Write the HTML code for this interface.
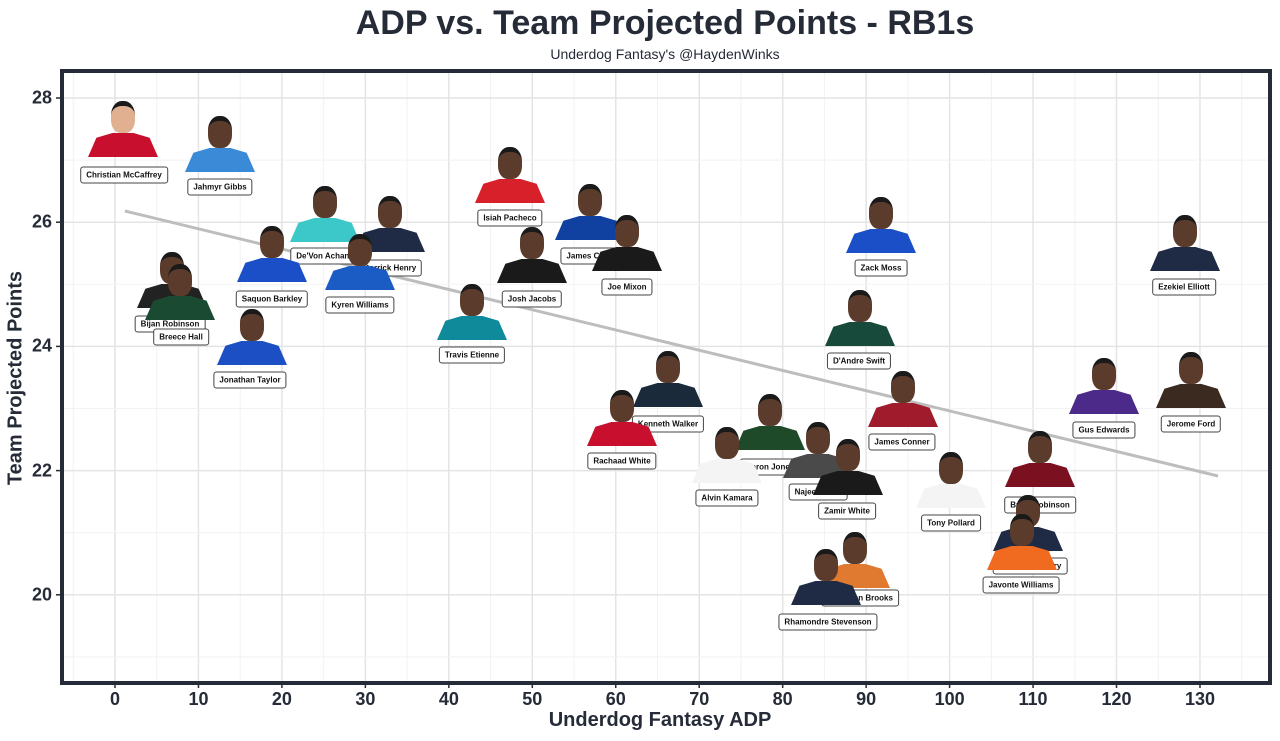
<!DOCTYPE html>
<html><head><meta charset="utf-8"><style>
body{margin:0;width:1280px;height:741px;background:#fff;font-family:"Liberation Sans",sans-serif;position:relative;overflow:hidden;color:#262b38}
.t{position:absolute;left:25px;width:1280px;text-align:center}
.lab{position:absolute;transform:translate(-50%,-50%);background:#fff;border:1px solid #444;border-radius:3px;font-size:8px;font-weight:bold;color:#111;padding:3px 5px;white-space:nowrap}
.pl{position:absolute;width:70px;height:56px;transform:translateX(-50%)}
.pl .h{position:absolute;left:23px;top:0;width:24px;height:32px;border-radius:45% 45% 40% 40%;background:#5b3b2b;border-top:5px solid #1a1a1a;box-sizing:border-box}
.pl .j{position:absolute;left:0;bottom:0;width:70px;height:24px;clip-path:polygon(12% 20%,35% 0,65% 0,88% 20%,100% 100%,0 100%)}
.yt{position:absolute;left:0;width:52px;text-align:right;font-size:18px;font-weight:bold;transform:translateY(-50%)}
.xt{position:absolute;top:689px;font-size:18px;font-weight:bold;transform:translateX(-50%)}
</style></head><body>
<div class="t" style="top:4px;font-size:34px;font-weight:bold">ADP vs. Team Projected Points - RB1s</div>
<div class="t" style="top:46px;font-size:14px">Underdog Fantasy's @HaydenWinks</div>
<svg style="position:absolute;left:0;top:0" width="1280" height="741" id="sv"></svg>
<div class="t" style="top:709px;font-size:20px;font-weight:bold;left:20px">Underdog Fantasy ADP</div>
<div style="position:absolute;left:16px;top:378px;transform:translate(-50%,-50%) rotate(-90deg);font-size:20px;font-weight:bold;white-space:nowrap">Team Projected Points</div>
<div id="root"></div>
<script>
var sv=document.getElementById('sv'),s='';
function X(v){return 115+v*8.346}function Y(v){return 98+(28-v)*62.1}
for(var v=-5;v<=135;v+=5){var x=X(v);if(x<64||x>1268)continue;s+='<line x1="'+x+'" x2="'+x+'" y1="73" y2="681" stroke="'+(v%10?'#f2f2f2':'#e4e4e4')+'" stroke-width="'+(v%10?1:1.5)+'"/>';}
for(var v=19;v<=28.5;v+=1){var y=Y(v);s+='<line x1="64" x2="1268" y1="'+y+'" y2="'+y+'" stroke="'+(v%2?'#f2f2f2':'#e4e4e4')+'" stroke-width="'+(v%2?1:1.5)+'"/>';}
s+='<line x1="125" y1="211" x2="1218" y2="476" stroke="#bdbdbd" stroke-width="3"/>';
s+='<rect x="62" y="71" width="1208" height="612" fill="none" stroke="#262b38" stroke-width="4"/>';
for(var v=0;v<=130;v+=10){var x=X(v);s+='<line x1="'+x+'" x2="'+x+'" y1="683" y2="688" stroke="#262b38" stroke-width="1.5"/>';}
for(var v=20;v<=28;v+=2){var y=Y(v);s+='<line x1="56" x2="62" y1="'+y+'" y2="'+y+'" stroke="#262b38" stroke-width="1.5"/>';}
sv.innerHTML=s;
var h='';
for(var v=0;v<=130;v+=10)h+='<div class="xt" style="left:'+X(v)+'px">'+v+'</div>';
for(var v=20;v<=28;v+=2)h+='<div class="yt" style="top:'+Y(v)+'px">'+v+'</div>';
var P=[
["Christian McCaffrey",124,175,"#c8102e",123,157,"#e0b090"],
["Jahmyr Gibbs",220,187,"#3a8ad8",220,172],
["Isiah Pacheco",510,218,"#d8202a",510,203],
["De'Von Achane",325,256,"#3cc8c8",325,242],
["James Cook",590,256,"#1040a0",590,240],
["Derrick Henry",390,268,"#1f2b44",390,252],
["Zack Moss",881,268,"#1b4fc8",881,253],
["Ezekiel Elliott",1184,287,"#1f2b44",1185,271],
["Joe Mixon",627,287,"#1a1a1a",627,271],
["Saquon Barkley",272,299,"#1b4fc8",272,282],
["Josh Jacobs",532,299,"#1a1a1a",532,283],
["Kyren Williams",360,305,"#1a5bc4",360,290],
["Bijan Robinson",170,324,"#222222",172,308],
["Breece Hall",181,337,"#1a4a32",180,320],
["Travis Etienne",472,355,"#0e8a9a",472,340],
["D'Andre Swift",859,361,"#184a3c",860,346],
["Jonathan Taylor",250,380,"#1c4fc4",252,365],
["Gus Edwards",1104,430,"#4b2a8a",1104,414],
["Jerome Ford",1191,424,"#3a2a20",1191,408],
["James Conner",902,442,"#a01c2c",903,427],
["Kenneth Walker",668,424,"#1a2a3a",668,407],
["Rachaad White",622,461,"#c8102e",622,446],
["Aaron Jones",770,467,"#1f4a2a",770,450],
["Alvin Kamara",727,498,"#f4f4f4",727,483],
["Najee Harris",818,492,"#4a4a4a",818,478],
["Zamir White",847,511,"#1a1a1a",848,495],
["Brian Robinson",1040,505,"#7a1020",1040,487],
["Tony Pollard",951,523,"#f4f4f4",951,508],
["Devin Singletary",1030,566,"#1f2b44",1028,551],
["Javonte Williams",1021,585,"#f06a20",1022,570],
["Jonathon Brooks",860,598,"#e07a30",855,588],
["Rhamondre Stevenson",828,622,"#1f2b44",826,605]];
P.forEach(function(p){
h+='<div class="pl" style="left:'+p[4]+'px;top:'+(p[5]-56)+'px"><div class="h" style="background:'+(p[6]||'#5b3b2b')+'"></div><div class="j" style="background:'+p[3]+'"></div></div>';
h+='<div class="lab" style="left:'+p[1]+'px;top:'+p[2]+'px">'+p[0]+'</div>';});
document.getElementById('root').innerHTML=h;
</script>
</body></html>
